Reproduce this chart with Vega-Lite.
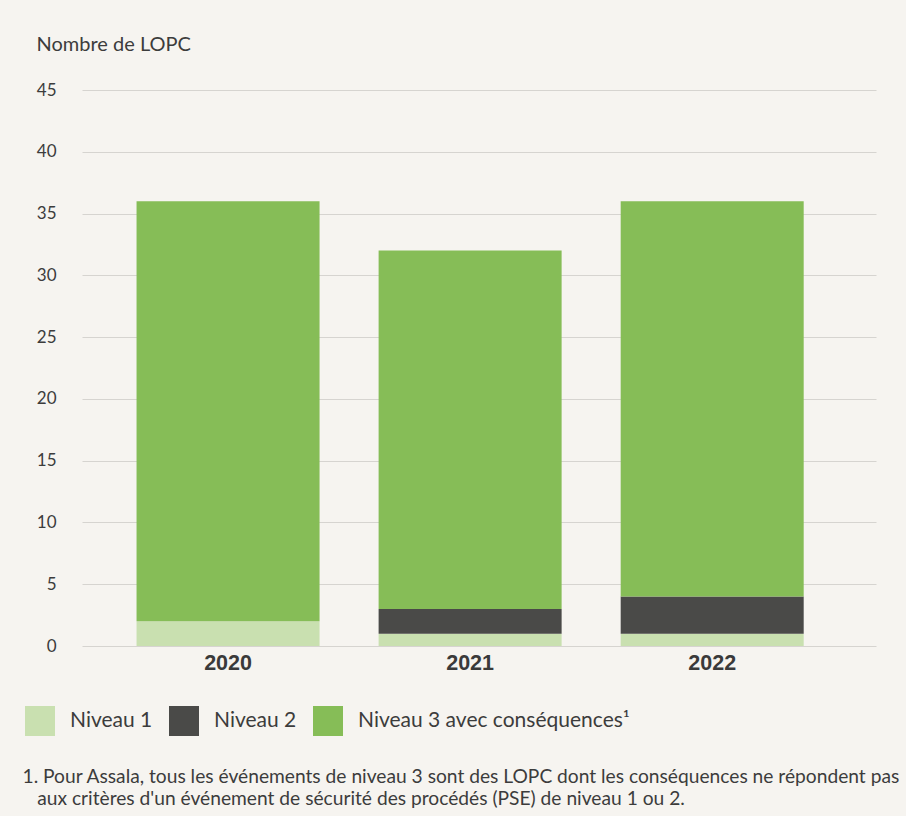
{
  "$schema": "https://vega.github.io/schema/vega-lite/v6.json",
  "autosize": {"type": "none"},
  "padding": {"left": 82, "top": 90, "right": 30, "bottom": 170},
  "width": 794,
  "height": 556,
  "background": "#f6f4f0",
  "config": {
    "view": {"stroke": null},
    "font": "Lato",
    "axis": {"labelFont": "Lato", "titleFont": "Lato"},
    "legend": {"labelFont": "Lato"}
  },
  "data": {
    "values": [
      {"annee": "2020", "niveau": "Niveau 1", "valeur": 2},
      {"annee": "2020", "niveau": "Niveau 2", "valeur": 0},
      {"annee": "2020", "niveau": "Niveau 3 avec conséquences¹", "valeur": 34},
      {"annee": "2021", "niveau": "Niveau 1", "valeur": 1},
      {"annee": "2021", "niveau": "Niveau 2", "valeur": 2},
      {"annee": "2021", "niveau": "Niveau 3 avec conséquences¹", "valeur": 29},
      {"annee": "2022", "niveau": "Niveau 1", "valeur": 1},
      {"annee": "2022", "niveau": "Niveau 2", "valeur": 3},
      {"annee": "2022", "niveau": "Niveau 3 avec conséquences¹", "valeur": 32}
    ]
  },
  "mark": {"type": "bar"},
  "encoding": {
    "x": {
      "field": "annee",
      "type": "nominal",
      "scale": {"paddingInner": 0.244, "paddingOuter": 0.262, "align": 0.43},
      "axis": {
        "labelAngle": 0,
        "labelFont": "Liberation Sans",
        "labelFontWeight": "bold",
        "labelFontSize": 21.5,
        "labelColor": "#3a3a3a",
        "labelPadding": 6,
        "ticks": false,
        "domain": false,
        "title": ["1. Pour Assala, tous les événements de niveau 3 sont des LOPC dont les conséquences ne répondent pas", "\u200b\u00a0\u00a0\u00a0aux critères d'un événement de sécurité des procédés (PSE) de niveau 1 ou 2."],
        "titleFont": "Lato",
        "titleFontWeight": "normal",
        "titleFontSize": 19.2,
        "titleColor": "#3c3c3c",
        "titleAlign": "left",
        "titleAnchor": "start",
        "titleBaseline": "middle",
        "titleLineHeight": 22,
        "titleX": -60,
        "titleY": 130
      }
    },
    "y": {
      "field": "valeur",
      "type": "quantitative",
      "stack": "zero",
      "scale": {"domain": [0, 45], "nice": false},
      "axis": {
        "values": [0, 5, 10, 15, 20, 25, 30, 35, 40, 45],
        "ticks": false,
        "domain": false,
        "gridColor": "#d6d4d0",
        "gridWidth": 1,
        "labelFontSize": 17,
        "labelColor": "#3c3c3c",
        "labelPadding": 26,
        "title": "Nombre de LOPC",
        "titleAngle": 0,
        "titleAlign": "left",
        "titleBaseline": "middle",
        "titleFontWeight": "normal",
        "titleFontSize": 20,
        "titleColor": "#3c3c3c",
        "titleX": -46,
        "titleY": -46
      }
    },
    "color": {
      "field": "niveau",
      "type": "nominal",
      "scale": {
        "domain": ["Niveau 1", "Niveau 2", "Niveau 3 avec conséquences¹"],
        "range": ["#c9e0b0", "#4a4a48", "#86bd57"]
      },
      "legend": {
        "orient": "none",
        "legendX": -57,
        "legendY": 616,
        "direction": "horizontal",
        "title": null,
        "symbolType": "square",
        "symbolSize": 900,
        "symbolStrokeWidth": 0,
        "symbolOpacity": 1,
        "labelFontSize": 21,
        "labelColor": "#3c3c3c",
        "labelOffset": 15,
        "columnPadding": 16,
        "labelLimit": 400
      }
    },
    "order": {"field": "niveau", "sort": "ascending"}
  }
}
